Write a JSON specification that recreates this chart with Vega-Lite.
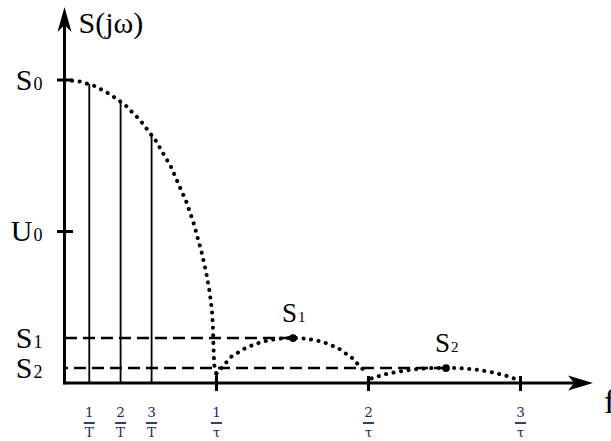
{
  "$schema": "https://vega.github.io/schema/vega-lite/v6.json",
  "width": 611,
  "height": 441,
  "autosize": "none",
  "padding": 0,
  "background": "white",
  "config": {"view": {"stroke": null}},
  "datasets": {
    "curve": [
      {"lobe": 1, "f": 0.0, "S": 1.0},
      {"lobe": 1, "f": 0.1, "S": 0.995},
      {"lobe": 1, "f": 0.2, "S": 0.98},
      {"lobe": 1, "f": 0.3, "S": 0.953},
      {"lobe": 1, "f": 0.4, "S": 0.917},
      {"lobe": 1, "f": 0.5, "S": 0.866},
      {"lobe": 1, "f": 0.6, "S": 0.8},
      {"lobe": 1, "f": 0.7, "S": 0.714},
      {"lobe": 1, "f": 0.8, "S": 0.6},
      {"lobe": 1, "f": 0.85, "S": 0.527},
      {"lobe": 1, "f": 0.9, "S": 0.436},
      {"lobe": 1, "f": 0.93, "S": 0.37},
      {"lobe": 1, "f": 0.955, "S": 0.3},
      {"lobe": 1, "f": 0.97, "S": 0.24},
      {"lobe": 1, "f": 0.977, "S": 0.18},
      {"lobe": 1, "f": 0.98, "S": 0.12},
      {"lobe": 1, "f": 0.985, "S": 0.06},
      {"lobe": 1, "f": 1.0, "S": 0.03},
      {"lobe": 2, "f": 1.0, "S": 0.03},
      {"lobe": 2, "f": 1.05, "S": 0.06},
      {"lobe": 2, "f": 1.1, "S": 0.088},
      {"lobe": 2, "f": 1.2, "S": 0.118},
      {"lobe": 2, "f": 1.3, "S": 0.136},
      {"lobe": 2, "f": 1.4, "S": 0.146},
      {"lobe": 2, "f": 1.5, "S": 0.149},
      {"lobe": 2, "f": 1.6, "S": 0.146},
      {"lobe": 2, "f": 1.7, "S": 0.136},
      {"lobe": 2, "f": 1.8, "S": 0.115},
      {"lobe": 2, "f": 1.9, "S": 0.08},
      {"lobe": 2, "f": 1.95, "S": 0.05},
      {"lobe": 2, "f": 1.98, "S": 0.04},
      {"lobe": 3, "f": 2.02, "S": 0.015},
      {"lobe": 3, "f": 2.1, "S": 0.028},
      {"lobe": 3, "f": 2.2, "S": 0.038},
      {"lobe": 3, "f": 2.3, "S": 0.045},
      {"lobe": 3, "f": 2.4, "S": 0.049},
      {"lobe": 3, "f": 2.5, "S": 0.05},
      {"lobe": 3, "f": 2.6, "S": 0.049},
      {"lobe": 3, "f": 2.7, "S": 0.045},
      {"lobe": 3, "f": 2.8, "S": 0.037},
      {"lobe": 3, "f": 2.9, "S": 0.025},
      {"lobe": 3, "f": 2.97, "S": 0.013}
    ],
    "harm": [
      {"f": 0.163, "S": 0.987},
      {"f": 0.369, "S": 0.929},
      {"f": 0.573, "S": 0.818}
    ],
    "peaks": [
      {"f": 1.503, "S": 0.1485, "name": "S", "sub": "1"},
      {"f": 2.51, "S": 0.0495, "name": "S", "sub": "2"}
    ],
    "levels": [
      {"S": 1.0, "name": "S", "sub": "0"},
      {"S": 0.5, "name": "U", "sub": "0"},
      {"S": 0.1485, "name": "S", "sub": "1"},
      {"S": 0.0495, "name": "S", "sub": "2"}
    ],
    "xlabels": [
      {"f": 0.163, "num": "1", "den": "T"},
      {"f": 0.369, "num": "2", "den": "T"},
      {"f": 0.573, "num": "3", "den": "T"},
      {"f": 1.0, "num": "1", "den": "τ"},
      {"f": 2.0, "num": "2", "den": "τ"},
      {"f": 3.0, "num": "3", "den": "τ"}
    ]
  },
  "layer": [
    {
      "data": {"values": [{"a": 1}]},
      "mark": {"type": "rule", "strokeWidth": 3, "color": "black"},
      "encoding": {
        "x": {"datum": 0, "type": "quantitative", "scale": {"domain": [-0.4243, 3.5954], "nice": false, "zero": false}, "axis": null},
        "y": {"datum": -0.004, "type": "quantitative", "scale": {"domain": [-0.1914, 1.264], "nice": false, "zero": false}, "axis": null},
        "y2": {"datum": 1.19}
      }
    },
    {
      "data": {"values": [{"a": 1}]},
      "mark": {"type": "rule", "strokeWidth": 3, "color": "black"},
      "encoding": {
        "x": {"datum": -0.01, "type": "quantitative", "scale": {"domain": [-0.4243, 3.5954], "nice": false, "zero": false}, "axis": null},
        "x2": {"datum": 3.39},
        "y": {"datum": 0, "type": "quantitative", "scale": {"domain": [-0.1914, 1.264], "nice": false, "zero": false}, "axis": null}
      }
    },
    {
      "data": {"values": [{"a": 1}]},
      "mark": {"type": "point", "filled": true, "opacity": 1, "color": "black", "size": 625, "shape": "M0,-1L0.56,1L0,0.45L-0.56,1Z"},
      "encoding": {
        "x": {"datum": 0, "type": "quantitative", "scale": {"domain": [-0.4243, 3.5954], "nice": false, "zero": false}, "axis": null},
        "y": {"datum": 1.1997, "type": "quantitative", "scale": {"domain": [-0.1914, 1.264], "nice": false, "zero": false}, "axis": null}
      }
    },
    {
      "data": {"values": [{"a": 1}]},
      "mark": {"type": "point", "filled": true, "opacity": 1, "color": "black", "size": 625, "shape": "M1,0L-1,-0.6L-0.5,0L-1,0.6Z"},
      "encoding": {
        "x": {"datum": 3.395, "type": "quantitative", "scale": {"domain": [-0.4243, 3.5954], "nice": false, "zero": false}, "axis": null},
        "y": {"datum": 0, "type": "quantitative", "scale": {"domain": [-0.1914, 1.264], "nice": false, "zero": false}, "axis": null}
      }
    },
    {
      "data": {"name": "levels"},
      "transform": [{"filter": "datum.sub == '0'"}],
      "mark": {"type": "rule", "strokeWidth": 3, "color": "black"},
      "encoding": {
        "x": {"datum": -0.0493, "type": "quantitative", "scale": {"domain": [-0.4243, 3.5954], "nice": false, "zero": false}, "axis": null},
        "x2": {"datum": 0.0559},
        "y": {"field": "S", "type": "quantitative", "scale": {"domain": [-0.1914, 1.264], "nice": false, "zero": false}, "axis": null}
      }
    },
    {
      "data": {"name": "xlabels"},
      "transform": [{"filter": "datum.den == 'τ'"}],
      "mark": {"type": "rule", "strokeWidth": 3, "color": "black"},
      "encoding": {
        "x": {"field": "f", "type": "quantitative", "scale": {"domain": [-0.4243, 3.5954], "nice": false, "zero": false}, "axis": null},
        "y": {"datum": 0.0231, "type": "quantitative", "scale": {"domain": [-0.1914, 1.264], "nice": false, "zero": false}, "axis": null},
        "y2": {"datum": -0.0264}
      }
    },
    {
      "data": {"name": "harm"},
      "mark": {"type": "rule", "strokeWidth": 1.8, "color": "black"},
      "encoding": {
        "x": {"field": "f", "type": "quantitative", "scale": {"domain": [-0.4243, 3.5954], "nice": false, "zero": false}, "axis": null},
        "y": {"field": "S", "type": "quantitative", "scale": {"domain": [-0.1914, 1.264], "nice": false, "zero": false}, "axis": null},
        "y2": {"datum": 0}
      }
    },
    {
      "data": {"name": "peaks"},
      "mark": {"type": "rule", "strokeWidth": 2.5, "color": "black", "strokeDash": [12, 6]},
      "encoding": {
        "x": {"field": "f", "type": "quantitative", "scale": {"domain": [-0.4243, 3.5954], "nice": false, "zero": false}, "axis": null},
        "x2": {"datum": 0.01},
        "y": {"field": "S", "type": "quantitative", "scale": {"domain": [-0.1914, 1.264], "nice": false, "zero": false}, "axis": null}
      }
    },
    {
      "data": {"name": "curve"},
      "mark": {"type": "line", "strokeWidth": 4, "strokeCap": "round", "strokeDash": [0.1, 7.5], "color": "black"},
      "encoding": {
        "x": {"field": "f", "type": "quantitative", "scale": {"domain": [-0.4243, 3.5954], "nice": false, "zero": false}, "axis": null},
        "y": {"field": "S", "type": "quantitative", "scale": {"domain": [-0.1914, 1.264], "nice": false, "zero": false}, "axis": null},
        "detail": {"field": "lobe", "type": "nominal"}
      }
    },
    {
      "data": {"name": "peaks"},
      "mark": {"type": "point", "filled": true, "opacity": 1, "color": "black", "size": 60, "shape": "circle"},
      "encoding": {
        "x": {"field": "f", "type": "quantitative", "scale": {"domain": [-0.4243, 3.5954], "nice": false, "zero": false}, "axis": null},
        "y": {"field": "S", "type": "quantitative", "scale": {"domain": [-0.1914, 1.264], "nice": false, "zero": false}, "axis": null}
      }
    },
    {
      "data": {"name": "peaks"},
      "mark": {"type": "text", "font": "Liberation Serif", "fontSize": 27, "align": "right", "baseline": "alphabetic", "dx": 4, "dy": -16, "color": "black"},
      "encoding": {
        "x": {"field": "f", "type": "quantitative", "scale": {"domain": [-0.4243, 3.5954], "nice": false, "zero": false}, "axis": null},
        "y": {"field": "S", "type": "quantitative", "scale": {"domain": [-0.1914, 1.264], "nice": false, "zero": false}, "axis": null},
        "text": {"field": "name", "type": "nominal"}
      }
    },
    {
      "data": {"name": "peaks"},
      "mark": {"type": "text", "font": "Liberation Serif", "fontSize": 15, "align": "left", "baseline": "alphabetic", "dx": 5, "dy": -16, "color": "black"},
      "encoding": {
        "x": {"field": "f", "type": "quantitative", "scale": {"domain": [-0.4243, 3.5954], "nice": false, "zero": false}, "axis": null},
        "y": {"field": "S", "type": "quantitative", "scale": {"domain": [-0.1914, 1.264], "nice": false, "zero": false}, "axis": null},
        "text": {"field": "sub", "type": "nominal"}
      }
    },
    {
      "data": {"name": "levels"},
      "mark": {"type": "text", "font": "Liberation Serif", "fontSize": 30, "align": "right", "baseline": "alphabetic", "dx": -32, "dy": 10, "color": "black"},
      "encoding": {
        "x": {"datum": 0, "type": "quantitative", "scale": {"domain": [-0.4243, 3.5954], "nice": false, "zero": false}, "axis": null},
        "y": {"field": "S", "type": "quantitative", "scale": {"domain": [-0.1914, 1.264], "nice": false, "zero": false}, "axis": null},
        "text": {"field": "name", "type": "nominal"}
      }
    },
    {
      "data": {"name": "levels"},
      "mark": {"type": "text", "font": "Liberation Serif", "fontSize": 18, "align": "left", "baseline": "alphabetic", "dx": -31, "dy": 10, "color": "black"},
      "encoding": {
        "x": {"datum": 0, "type": "quantitative", "scale": {"domain": [-0.4243, 3.5954], "nice": false, "zero": false}, "axis": null},
        "y": {"field": "S", "type": "quantitative", "scale": {"domain": [-0.1914, 1.264], "nice": false, "zero": false}, "axis": null},
        "text": {"field": "sub", "type": "nominal"}
      }
    },
    {
      "data": {"name": "xlabels"},
      "mark": {"type": "text", "font": "DejaVu Serif", "fontSize": 13.5, "align": "center", "baseline": "middle", "color": "#1b2a5c"},
      "encoding": {
        "x": {"field": "f", "type": "quantitative", "scale": {"domain": [-0.4243, 3.5954], "nice": false, "zero": false}, "axis": null},
        "y": {"datum": -0.099, "type": "quantitative", "scale": {"domain": [-0.1914, 1.264], "nice": false, "zero": false}, "axis": null},
        "text": {"field": "num", "type": "nominal"}
      }
    },
    {
      "data": {"name": "xlabels"},
      "mark": {"type": "rule", "strokeWidth": 1.8, "color": "#1b2a5c", "xOffset": -5.5, "x2Offset": 5.5},
      "encoding": {
        "x": {"field": "f", "type": "quantitative", "scale": {"domain": [-0.4243, 3.5954], "nice": false, "zero": false}, "axis": null},
        "x2": {"field": "f"},
        "y": {"datum": -0.132, "type": "quantitative", "scale": {"domain": [-0.1914, 1.264], "nice": false, "zero": false}, "axis": null}
      }
    },
    {
      "data": {"name": "xlabels"},
      "mark": {"type": "text", "font": "DejaVu Serif", "fontSize": 13.5, "align": "center", "baseline": "middle", "color": "#1b2a5c"},
      "encoding": {
        "x": {"field": "f", "type": "quantitative", "scale": {"domain": [-0.4243, 3.5954], "nice": false, "zero": false}, "axis": null},
        "y": {"datum": -0.164, "type": "quantitative", "scale": {"domain": [-0.1914, 1.264], "nice": false, "zero": false}, "axis": null},
        "text": {"field": "den", "type": "nominal"}
      }
    },
    {
      "data": {"values": [{"label": "S(jω)"}]},
      "mark": {"type": "text", "font": "Liberation Serif", "fontSize": 30, "align": "left", "baseline": "alphabetic", "dx": 14, "color": "black"},
      "encoding": {
        "x": {"datum": 0, "type": "quantitative", "scale": {"domain": [-0.4243, 3.5954], "nice": false, "zero": false}, "axis": null},
        "y": {"datum": 1.155, "type": "quantitative", "scale": {"domain": [-0.1914, 1.264], "nice": false, "zero": false}, "axis": null},
        "text": {"field": "label", "type": "nominal"}
      }
    },
    {
      "data": {"values": [{"label": "f"}]},
      "mark": {"type": "text", "font": "Liberation Serif", "fontSize": 34, "align": "left", "baseline": "alphabetic", "color": "black"},
      "encoding": {
        "x": {"datum": 3.55, "type": "quantitative", "scale": {"domain": [-0.4243, 3.5954], "nice": false, "zero": false}, "axis": null},
        "y": {"datum": -0.099, "type": "quantitative", "scale": {"domain": [-0.1914, 1.264], "nice": false, "zero": false}, "axis": null},
        "text": {"field": "label", "type": "nominal"}
      }
    }
  ]
}
